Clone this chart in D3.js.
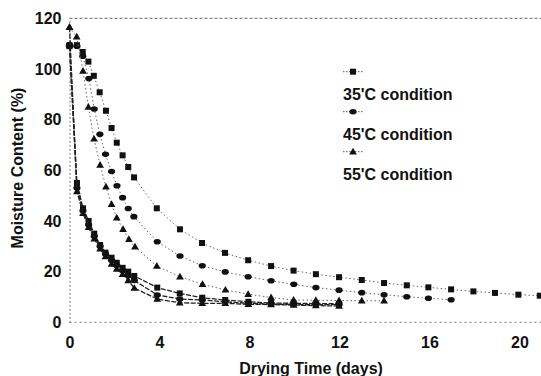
<!DOCTYPE html>
<html>
<head>
<meta charset="utf-8">
<script src="https://cdn.jsdelivr.net/npm/d3@7"></script>
<style>
  body { margin: 0; background: #fff; }
  text { font-family: "Liberation Sans", Arial, sans-serif; font-weight: bold; fill: #111; }
</style>
</head>
<body>
<div id="chart"></div>
<script>
// slow drying runs (dotted lines)
const daysSlow35 = [0, 0.33, 0.59, 0.84, 1.08, 1.34, 1.62, 1.87, 2.1, 2.36, 2.61, 2.87, 3.88, 4.91, 5.89, 6.91, 7.94, 8.96, 9.96, 10.95, 11.98, 12.99, 13.98, 14.99, 15.95, 16.96, 17.95, 18.91, 19.95, 20.9];
const slow35 = [109.4, 109.4, 106.7, 102.9, 97.3, 90.8, 83.5, 76.7, 70.9, 65.9, 61.3, 57.2, 45, 36.7, 31.3, 27.4, 24.5, 22.2, 20.4, 19.0, 17.8, 16.7, 15.5, 14.6, 13.8, 13.0, 12.2, 11.6, 10.9, 10.5];

const daysSlow45 = [0, 0.33, 0.59, 0.86, 1.1, 1.35, 1.6, 1.87, 2.11, 2.36, 2.61, 2.86, 3.9, 4.91, 5.9, 6.92, 7.94, 8.96, 9.97, 10.95, 11.98, 12.99, 13.98, 14.99, 15.95, 16.96];
const slow45 = [109.4, 109, 105, 96.2, 84.2, 74.2, 66.3, 59.5, 53.9, 49.2, 44.9, 41.7, 31.8, 26.2, 22.3, 19.9, 18.0, 16.4, 15.0, 13.7, 12.7, 11.7, 10.9, 10.1, 9.5, 8.9];

const daysSlow55 = [0, 0.32, 0.6, 0.84, 1.09, 1.36, 1.62, 1.87, 2.1, 2.38, 2.64, 2.91, 3.88, 4.91, 5.91, 6.93, 7.94, 8.96, 9.96, 10.95, 11.98, 12.99, 13.98];
const slow55 = [116.5, 112.7, 99.2, 85.0, 72.4, 62.1, 53.5, 46.6, 41.3, 36.7, 32.8, 29.8, 22.2, 18.0, 15.0, 12.8, 11.1, 9.8, 8.8, 8.7, 8.6, 8.5, 8.5];

// fast drying runs (darker lines)
const daysFast = [0, 0.33, 0.6, 0.85, 1.1, 1.36, 1.6, 1.87, 2.1, 2.36, 2.61, 2.88, 3.9, 4.9, 5.9, 6.92, 7.95, 8.96, 9.96, 10.95, 11.98];
const fast35 = [109, 55, 45, 40, 35, 30.5, 27.5, 25.5, 23.5, 21.5, 20, 18.3, 13.7, 11.4, 9.7, 8.8, 8.1, 7.6, 7.5, 7.4, 7.3];
const fast45 = [109, 53, 44, 38.5, 34, 30, 27, 24.5, 22.5, 20.5, 18.5, 16.5, 10.8, 9.2, 8.8, 8.1, 7.5, 7.2, 7.0, 7.0, 7.0];
const fast55 = [116.5, 51.6, 43, 37.5, 33, 29, 26, 23, 21, 19, 16.5, 13.5, 9.2, 7.7, 7.5, 7.5, 7.1, 7.0, 6.8, 6.6, 6.4];

const legendLabels = ["35'C condition", "45'C condition", "55'C condition"];
const xTicks = [0, 4, 8, 12, 16, 20];
const yTicks = [0, 20, 40, 60, 80, 100, 120];

const W = 541, H = 376;
const margin = {top: 18.3, right: 0, bottom: 53.7, left: 69.5};

const svg = d3.select("#chart").append("svg")
  .attr("width", W)
  .attr("height", H);

const x = d3.scaleLinear().domain([0, 21]).range([margin.left, 542]);
const y = d3.scaleLinear().domain([0, 120]).range([H - margin.bottom, margin.top]);

// frame: top, left and bottom lines are thin dotted grey
svg.append("line")
  .attr("x1", x(0)).attr("x2", W)
  .attr("y1", y(120)).attr("y2", y(120))
  .attr("stroke", "#666").attr("stroke-width", 1).attr("stroke-dasharray", "3,2");

const yAxis = svg.append("g")
  .attr("transform", `translate(${x(0)},0)`)
  .call(d3.axisLeft(y).tickValues(yTicks).tickSize(0).tickPadding(8));
yAxis.selectAll("text").attr("font-size", 16);
yAxis.select(".domain").attr("stroke", "#777").attr("stroke-dasharray", "2,2");

const xAxis = svg.append("g")
  .attr("transform", `translate(0,${y(0)})`)
  .call(d3.axisBottom(x).tickValues(xTicks).tickSize(0).tickPadding(14));
xAxis.selectAll("text").attr("font-size", 16);
xAxis.select(".domain").attr("stroke", "#777").attr("stroke-dasharray", "2,3")
  .attr("d", `M${x(0)},0H${W}`);

svg.append("text")
  .attr("text-anchor", "middle")
  .attr("x", 311)
  .attr("y", 374)
  .attr("font-size", 16)
  .text("Drying Time (days)");

svg.append("text")
  .attr("text-anchor", "middle")
  .attr("transform", "translate(23,168) rotate(-90)")
  .attr("font-size", 16)
  .text("Moisture Content (%)");

const series = [
  {days: daysSlow35, vals: slow35, shape: "square", slow: true},
  {days: daysSlow45, vals: slow45, shape: "diamond", slow: true},
  {days: daysSlow55, vals: slow55, shape: "triangle", slow: true},
  {days: daysFast, vals: fast35, shape: "square", slow: false},
  {days: daysFast, vals: fast45, shape: "diamond", slow: false},
  {days: daysFast, vals: fast55, shape: "triangle", slow: false}
];

const line = d3.line().x(d => x(d[0])).y(d => y(d[1]));

const drawMarker = function(g, shape, cx, cy) {
  if (shape === "square") {
    g.append("rect").attr("x", cx - 3).attr("y", cy - 3)
      .attr("width", 6).attr("height", 6).attr("fill", "#111");
  } else if (shape === "diamond") {
    g.append("ellipse").attr("cx", cx).attr("cy", cy)
      .attr("rx", 3.6).attr("ry", 2.8).attr("fill", "#111");
  } else {
    g.append("path")
      .attr("transform", `translate(${cx},${cy + 0.5})`)
      .attr("d", d3.symbol().type(d3.symbolTriangle).size(26)())
      .attr("fill", "#111");
  }
};

series.forEach(function(s) {
  const pts = s.days.map((d, i) => [d, s.vals[i]]);
  svg.append("path")
    .datum(pts)
    .attr("fill", "none")
    .attr("stroke", s.slow ? "#666" : "#222")
    .attr("stroke-width", s.slow ? 1 : 1.3)
    .attr("stroke-dasharray", s.slow ? "1.5,2.5" : "5,1.5")
    .attr("d", line);
  const g = svg.append("g");
  pts.forEach(p => drawMarker(g, s.shape, x(p[0]), y(p[1])));
});

// legend
const legend = svg.append("g");
["square", "diamond", "triangle"].forEach(function(shape, i) {
  const ly = 71.7 + i * 40;
  legend.append("line")
    .attr("x1", 343).attr("x2", 363)
    .attr("y1", ly).attr("y2", ly)
    .attr("stroke", "#555").attr("stroke-dasharray", "1.5,1.5");
  drawMarker(legend, shape, 353, ly);
  legend.append("text")
    .attr("x", 343)
    .attr("y", 100 + i * 40)
    .attr("font-size", 16)
    .text(legendLabels[i]);
});
</script>
</body>
</html>
